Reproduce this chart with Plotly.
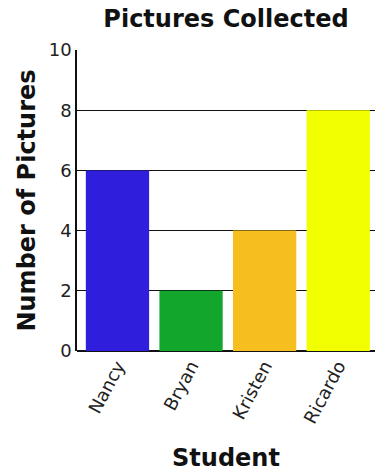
import plotly.graph_objects as go

students = ["Nancy", "Bryan", "Kristen", "Ricardo"]
pictures = [6, 2, 4, 8]
bar_colors = ["#2F1EDC", "#12A72C", "#F6BE1F", "#F2FF00"]
y_ticks = [0, 2, 4, 6, 8, 10]

FONT = "DejaVu Sans"

fig = go.Figure(
    go.Bar(
        x=students,
        y=pictures,
        marker=dict(color=bar_colors, line=dict(width=0)),
        width=0.86,
    )
)

fig.update_layout(
    width=375,
    height=472,
    margin=dict(l=77, r=0, t=50, b=121),
    paper_bgcolor="white",
    plot_bgcolor="white",
    showlegend=False,
    title=dict(
        text="<b>Pictures Collected</b>",
        x=(77 + 375) / 2 / 375,
        xanchor="center",
        y=1 - 19 / 472,
        yanchor="middle",
        font=dict(family=FONT, size=24, color="#111"),
    ),
    font=dict(family=FONT, color="#222"),
)

fig.update_xaxes(
    range=[-0.55, 3.5],
    showline=False,
    showgrid=False,
    tickangle=-62,
    tickfont=dict(family=FONT, size=18, color="#222"),
    ticks="",
    title=dict(text="<b>Student</b>", font=dict(family=FONT, size=24, color="#111"), standoff=27),
)

fig.update_yaxes(
    range=[0, 10],
    tickvals=y_ticks,
    showgrid=True,
    gridcolor="#111",
    gridwidth=1,
    showline=True,
    linecolor="#111",
    linewidth=1.5,
    zeroline=True,
    zerolinecolor="#111",
    zerolinewidth=1.5,
    ticks="",
    tickfont=dict(family=FONT, size=18, color="#222"),
    title=dict(text="<b>Number of Pictures</b>", font=dict(family=FONT, size=24, color="#111"), standoff=6),
)

fig.write_html("out.html")
